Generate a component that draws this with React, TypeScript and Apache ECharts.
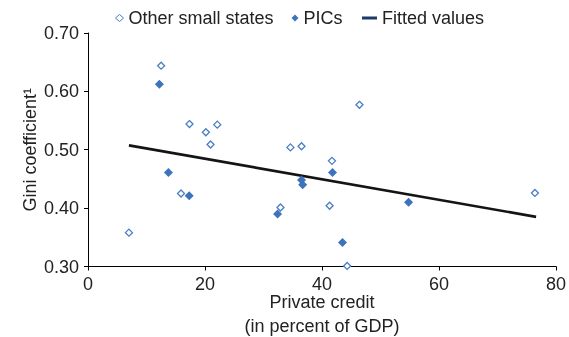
import React, { useEffect, useRef } from "react";
import * as echarts from "echarts";

// Other small states (hollow diamonds)
const otherX = [7.0, 15.9, 12.5, 17.35, 22.1, 20.15, 20.95, 46.4, 34.6, 36.5, 41.7, 41.3, 44.3, 32.9, 76.4];
const otherY = [0.358, 0.425, 0.644, 0.544, 0.543, 0.530, 0.509, 0.577, 0.504, 0.506, 0.481, 0.404, 0.301, 0.401, 0.426];

// PICs (filled diamonds)
const picX = [13.75, 17.3, 12.2, 41.8, 36.5, 36.7, 43.5, 32.4, 54.8];
const picY = [0.461, 0.421, 0.612, 0.461, 0.448, 0.440, 0.341, 0.390, 0.410];

// Fitted values (line end points)
const fitX = [7.0, 76.6];
const fitY = [0.5075, 0.385];

const xTicks = [0, 20, 40, 60, 80];
const yTicks = [0.3, 0.4, 0.5, 0.6, 0.7];

const FONT = "'Liberation Sans', Arial, Helvetica, sans-serif";
const TEXT = "#222";

export default function App() {
  const ref = useRef<HTMLDivElement>(null);
  useEffect(() => {
    if (!ref.current) return;
    const chart = echarts.init(ref.current, undefined, { renderer: "svg" });
    const legendText = { fontSize: 18, color: TEXT, fontFamily: FONT };
    chart.setOption({
      animation: false,
      textStyle: { fontFamily: FONT },
      grid: { left: 88, right: 13, top: 33, bottom: 70.5, containLabel: false, outerBoundsMode: "none" },
      legend: [
        {
          data: [{ name: "Other small states", itemStyle: { color: "#fff", borderColor: "#4a7ec3", borderWidth: 1 } }],
          left: 115, top: 9, padding: 0, itemWidth: 8, itemHeight: 7,
          textStyle: legendText, selectedMode: false,
        },
        {
          data: ["PICs"],
          left: 291.5, top: 9, padding: 0, itemWidth: 7, itemHeight: 7,
          textStyle: legendText, selectedMode: false,
        },
        {
          data: [{ name: "Fitted values", icon: "rect", itemStyle: { color: "#1f3a68", borderWidth: 0 } }],
          left: 362, top: 9, padding: 0, itemWidth: 15, itemHeight: 3,
          textStyle: legendText, selectedMode: false,
        },
      ],
      xAxis: {
        type: "value",
        min: xTicks[0],
        max: xTicks[xTicks.length - 1],
        interval: xTicks[1] - xTicks[0],
        name: "Private credit\n(in percent of GDP)",
        nameLocation: "middle",
        nameGap: 24,
        nameMoveOverlap: false,
        nameTextStyle: { fontSize: 18, color: TEXT, fontFamily: FONT, lineHeight: 23.5 },
        axisLine: { lineStyle: { color: "#000", width: 1 } },
        axisTick: { show: true, inside: false, length: 4, lineStyle: { color: "#000" } },
        axisLabel: { fontSize: 18, color: TEXT, margin: 8, fontFamily: FONT },
        splitLine: { show: false },
      },
      yAxis: {
        type: "value",
        min: yTicks[0],
        max: yTicks[yTicks.length - 1],
        interval: 0.1,
        name: "Gini coefficient\u00B9",
        nameLocation: "middle",
        nameGap: 49,
        nameMoveOverlap: false,
        nameTextStyle: { fontSize: 18, color: TEXT, fontFamily: FONT },
        axisLine: { show: true, lineStyle: { color: "#000", width: 1 } },
        axisTick: { show: true, inside: false, length: 4, lineStyle: { color: "#000" } },
        axisLabel: { fontSize: 18, color: TEXT, margin: 9, fontFamily: FONT, formatter: (v: number) => v.toFixed(2) },
        splitLine: { show: false },
      },
      series: [
        {
          name: "Other small states",
          type: "scatter",
          symbol: "diamond",
          symbolSize: 7,
          z: 3,
          itemStyle: { color: "#fff", borderColor: "#4a7ec3", borderWidth: 1.3, opacity: 1 },
          data: otherX.map((x, i) => [x, otherY[i]]),
        },
        {
          name: "PICs",
          type: "scatter",
          symbol: "diamond",
          symbolSize: 9,
          z: 3,
          itemStyle: { color: "#3d73bb", opacity: 1 },
          data: picX.map((x, i) => [x, picY[i]]),
        },
        {
          name: "Fitted values",
          type: "line",
          symbol: "none",
          z: 2,
          lineStyle: { color: "#141414", width: 2.6 },
          itemStyle: { color: "#141414" },
          data: fitX.map((x, i) => [x, fitY[i]]),
        },
      ],
    });
    return () => chart.dispose();
  }, []);
  return <div ref={ref} style={{ position: "fixed", left: 0, top: 0, width: 569, height: 337 }} />;
}
